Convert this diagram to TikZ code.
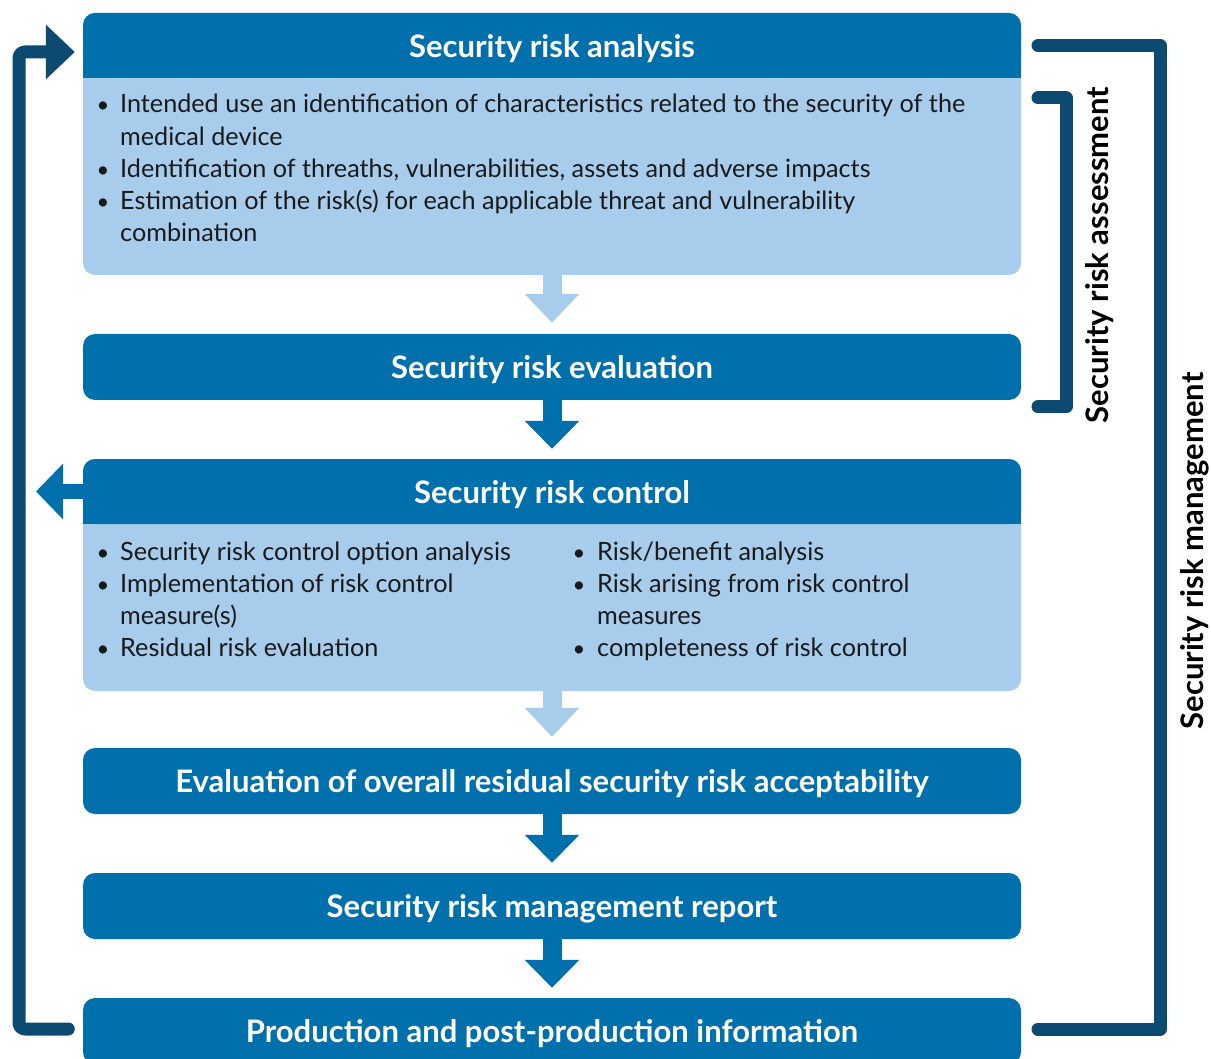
\documentclass[tikz,border=0pt]{standalone}
\usepackage{fontspec}
\setmainfont{Lato}
\usetikzlibrary{arrows.meta,calc}
\definecolor{hdr}{RGB}{0,112,173}
\definecolor{bodyc}{RGB}{168,204,236}
\definecolor{navy}{RGB}{12,74,114}
\definecolor{txt}{RGB}{26,26,26}
\begin{document}
\begin{tikzpicture}[x=1pt,y=-1pt,
  bodybox/.style={fill=bodyc, rounded corners=12pt, inner sep=0pt, minimum width=938pt},
  hdrbox/.style={fill=hdr, rounded corners=12pt, inner sep=0pt, minimum width=938pt, minimum height=66pt,
     text=white, font=\bfseries\fontsize{31}{34}\selectfont, text height=23.5pt, text depth=0pt},
  bt/.style={anchor=base west, inner sep=0pt, text=txt, font=\fontsize{25.2}{30}\selectfont},
  bul/.style={anchor=base, inner sep=0pt, text=txt, font=\fontsize{22}{30}\selectfont},
  larrow/.style={line width=19pt, draw=bodyc, -{Triangle[width=53pt,length=29pt]}, shorten >=11pt},
  darrow/.style={line width=19pt, draw=hdr, -{Triangle[width=53pt,length=28pt]}, shorten >=10pt},
  side/.style={line width=13pt, draw=navy, line cap=round, line join=round},
  vlabel/.style={rotate=90, anchor=base, inner sep=0pt, text=black, font=\bfseries\fontsize{31}{34}\selectfont}
]
\clip (0,0) rectangle (1211,1059);
\fill[white] (0,0) rectangle (1211,1059);

% box 1
\node[bodybox, minimum height=262pt] (b1) at (552,144) {};
\node[hdrbox, minimum height=65pt] (h1) at (552,45.5) {};
\fill[hdr] (h1.south west) rectangle ([yshift=14pt]h1.south east);
\node at (h1) [hdrbox, fill=none, minimum height=65pt] {Security risk analysis};

% box 2
\node[hdrbox] (h2) at (552,367) {Security risk evaluation};

% box 3
\node[bodybox, minimum height=232pt] (b3) at (552,575) {};
\node[hdrbox, minimum height=65pt] (h3) at (552,491.5) {};
\fill[hdr] (h3.south west) rectangle ([yshift=14pt]h3.south east);
\node at (h3) [hdrbox, fill=none, minimum height=65pt] {Security risk control};

% boxes 4-6
\node[hdrbox] (h4) at (552,781) {Evaluation of overall residual security risk acceptability};
\node[hdrbox] (h5) at (552,906) {Security risk management report};
\node[hdrbox] (h6) at (552,1031) {Production and post-production information};

% body text box 1
\node[bul] (u1) at (103,113) {\textbullet};
\node[bt] (t1) at (120,113) {Intended use an identification of characteristics related to the security of the};
\node[bt] (t2) at (120,146) {medical device};
\node[bul] (u3) at (103,178) {\textbullet};
\node[bt] (t3) at (120,178) {Identification of threaths, vulnerabilities, assets and adverse impacts};
\node[bul] (u4) at (103,210) {\textbullet};
\node[bt] (t4) at (120,210) {Estimation of the risk(s) for each applicable threat and vulnerability};
\node[bt] (t5) at (120,242) {combination};

% body text box 3
\node[bul] (v1) at (103,560) {\textbullet};
\node[bt] (s1) at (120,560) {Security risk control option analysis};
\node[bul] (v2) at (103,592) {\textbullet};
\node[bt] (s2) at (120,592) {Implementation of risk control};
\node[bt] (s3) at (120,624) {measure(s)};
\node[bul] (v4) at (103,656) {\textbullet};
\node[bt] (s4) at (120,656) {Residual risk evaluation};
\node[bul] (w1) at (579,560) {\textbullet};
\node[bt] (r1) at (597,560) {Risk/benefit analysis};
\node[bul] (w2) at (579,592) {\textbullet};
\node[bt] (r2) at (597,592) {Risk arising from risk control};
\node[bt] (r3) at (597,624) {measures};
\node[bul] (w4) at (579,656) {\textbullet};
\node[bt] (r4) at (597,656) {completeness of risk control};

% flow arrows
\draw[larrow] (b1.south) -- (h2.north);
\draw[darrow] (h2.south) -- (h3.north);
\draw[larrow] (b3.south) -- (h4.north);
\draw[darrow] (h4.south) -- (h5.north);
\draw[darrow] (h5.south) -- (h6.north);

% exit arrow from control
\coordinate (exitpt) at (36,491.5);
\draw[line width=15pt, draw=hdr, -{Triangle[width=54pt,length=27pt]}] (h3.west) -- (exitpt);

% feedback loop
\coordinate (loopx) at (19,0);
\draw[side, rounded corners=6pt, -{Triangle[width=53pt,length=29pt]}]
  ([xshift=-14.5pt,yshift=2pt]h6.west) -- ([yshift=2pt]h6.west -| loopx) -- ([yshift=-6.5pt]h1.west -| loopx) -- ([xshift=-8pt,yshift=-6.5pt]h1.west);

% brackets
\coordinate (ia) at (1038,98);
\coordinate (ib) at (1066,98);
\coordinate (ic) at (1066,407);
\coordinate (id) at (1038,407);
\draw[side] (ia) -- (ib) -- (ic) -- (id);
\coordinate (oa) at (1038,45.5);
\coordinate (ob) at (1160,45.5);
\coordinate (oc) at (1160,1029);
\coordinate (od) at (1038,1029);
\draw[side] (oa) -- (ob) -- (oc) -- (od);

\node[vlabel] (lab1) at (1108,255) {Security risk assessment};
\node[vlabel] (lab2) at (1203,551) {Security risk management};
\end{tikzpicture}
\end{document}
